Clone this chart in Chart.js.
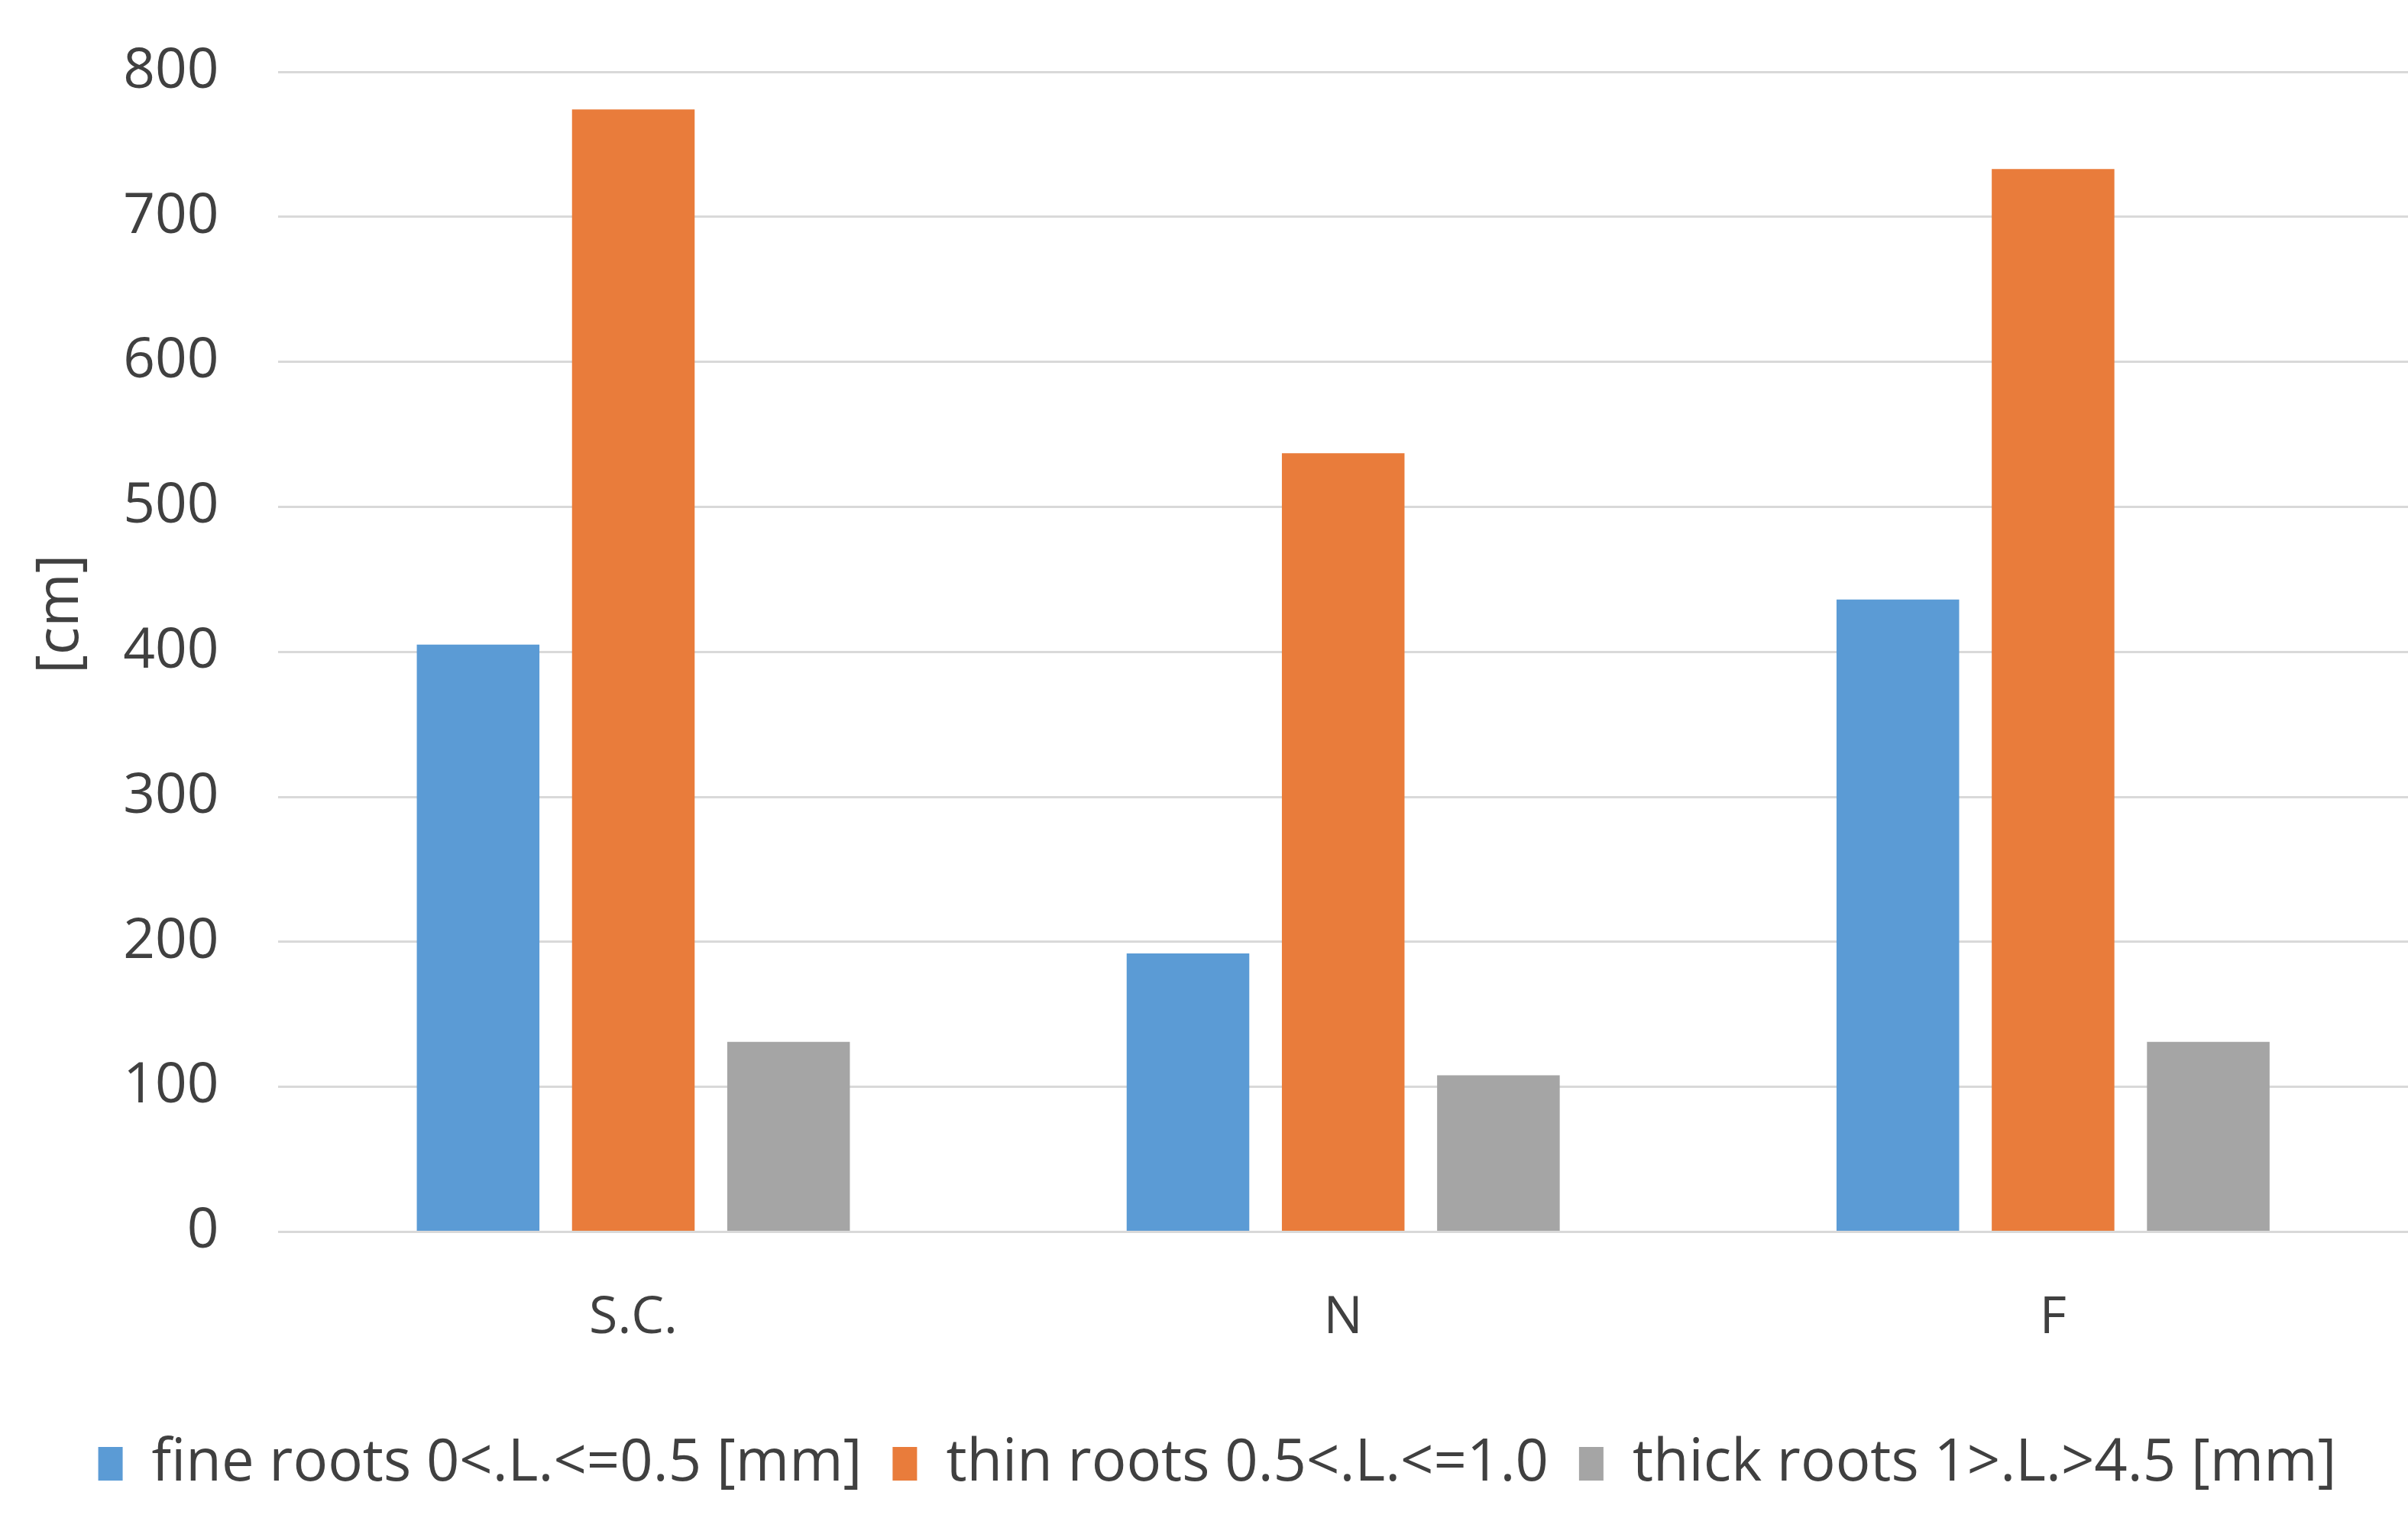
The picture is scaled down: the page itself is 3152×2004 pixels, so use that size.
<!DOCTYPE html>
<html>
<head>
<meta charset="utf-8">
<script src="https://cdn.jsdelivr.net/npm/chart.js@4/dist/chart.umd.min.js"></script>
<style>
html,body{margin:0;padding:0;background:#fff;}
#wrap{width:3152px;height:2004px;position:relative;}
</style>
</head>
<body>
<div id="wrap"><canvas id="c" width="3152" height="2004"></canvas></div>
<script>
const categories = ["S.C.", "N", "F"];
const fineRoots = [405, 192, 436];
const thinRoots = [774, 537, 733];
const thickRoots = [131, 108, 131];
const seriesLabels = ["fine roots 0<.L.<=0.5 [mm]", "thin roots 0.5<.L.<=1.0", "thick roots 1>.L.>4.5 [mm]"];
const yTitle = "[cm]";

const FONT = "'Open Sans', 'Noto Sans', sans-serif";
Chart.defaults.font.family = FONT;
Chart.defaults.color = "#404040";

new Chart(document.getElementById("c"), {
  type: "bar",
  data: {
    labels: categories,
    datasets: [
      { label: seriesLabels[0], data: fineRoots, backgroundColor: "#5b9bd5" },
      { label: seriesLabels[1], data: thinRoots, backgroundColor: "#e97c3b" },
      { label: seriesLabels[2], data: thickRoots, backgroundColor: "#a5a5a5" }
    ]
  },
  options: {
    responsive: false,
    devicePixelRatio: 1,
    animation: false,
    categoryPercentage: 0.656,
    barPercentage: 0.79,
    layout: { padding: { top: 0, right: 0, bottom: 40, left: 35 } },
    plugins: {
      tooltip: { enabled: false },
      legend: {
        position: "bottom",
        labels: {
          boxWidth: 32,
          boxHeight: 44,
          padding: 40,
          color: "#404040",
          font: { size: 76 }
        }
      }
    },
    scales: {
      x: {
        grid: { display: false, drawTicks: false },
        border: { display: false },
        ticks: { font: { size: 68 }, color: "#404040", padding: 72 }
      },
      y: {
        min: 0,
        max: 800,
        afterFit: (s) => { s.paddingTop = 94; },
        ticks: { stepSize: 100, font: { size: 73 }, color: "#404040", padding: 78 },
        grid: { color: "#d9d9d9", lineWidth: 3, drawTicks: false },
        border: { display: false },
        title: { display: true, text: "     " + yTitle, font: { size: 76 }, color: "#404040", padding: { top: 0, bottom: -43 } }
      }
    }
  }
});
</script>
</body>
</html>
